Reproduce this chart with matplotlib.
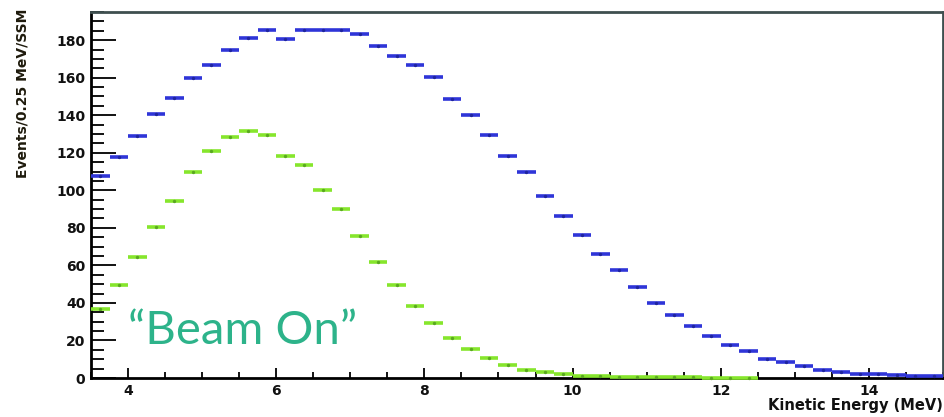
import numpy as np
import matplotlib
matplotlib.use('Agg')
import matplotlib.pyplot as plt
from matplotlib.ticker import MultipleLocator

# 0.25 MeV bins starting at 3.5 MeV
bin_width = 0.25
e_start = 3.5

# total spectrum (blue)
blue_counts = [107.6, 117.8, 128.9, 140.4, 149.4, 160.0, 166.9, 174.9, 181.3, 185.6,
               180.5, 185.3, 185.3, 185.6, 183.3, 177.1, 171.3, 166.7, 160.3, 148.6,
               140.3, 129.4, 118.4, 109.9, 97.2, 86.3, 76.1, 66.0, 57.3, 48.5,
               39.8, 33.4, 27.5, 22.4, 17.6, 14.4, 10.1, 8.5, 6.6, 4.3,
               3.2, 2.3, 2.0, 1.6, 1.2, 0.8]

# beam on spectrum (green)
green_counts = [36.7, 49.5, 64.6, 80.2, 94.2, 109.9, 121.1, 128.2, 131.5, 129.7,
                118.2, 113.6, 100.3, 90.0, 75.8, 61.6, 49.5, 38.2, 29.5, 21.5,
                15.4, 10.6, 7.1, 4.3, 3.0, 2.1, 1.2, 0.8, 0.6, 0.5,
                0.4, 0.3, 0.3, 0.2, 0.2, 0.2]

x_ticks = [4, 6, 8, 10, 12, 14]
y_ticks = [0, 20, 40, 60, 80, 100, 120, 140, 160, 180]


def draw_hist(ax, counts, color, dot_color):
    lo = e_start + bin_width * np.arange(len(counts))
    hi = lo + bin_width
    ax.hlines(counts, lo, hi, colors=color, linewidth=2.6, zorder=3, clip_on=False)
    ax.plot(lo + bin_width / 2, counts, 'o', ms=1.4, color=dot_color, zorder=4, clip_on=False)


fig = plt.figure(figsize=(9.44, 4.17), dpi=100)
ax = fig.add_axes([91 / 944, 39 / 417, 852 / 944, 366 / 417])

draw_hist(ax, blue_counts, '#2f35d8', '#1f259f')
draw_hist(ax, green_counts, '#86e62c', '#5aa820')

ax.set_xlim(3.5, 15.0)
ax.set_ylim(0, 195)
ax.set_xticks(x_ticks)
ax.set_yticks(y_ticks)
ax.xaxis.set_minor_locator(MultipleLocator(0.5))
ax.yaxis.set_minor_locator(MultipleLocator(5))

ax.tick_params(axis='both', which='both', direction='in', width=1.3, color='black')
ax.tick_params(axis='y', which='major', length=18, pad=4)
ax.tick_params(axis='y', which='minor', length=9)
ax.tick_params(axis='x', which='major', length=7, pad=4)
ax.tick_params(axis='x', which='minor', length=4)
ax.tick_params(top=False, right=False, which='both')

for lbl in ax.get_xticklabels() + ax.get_yticklabels():
    lbl.set_fontweight('bold')
    lbl.set_fontsize(10)
    lbl.set_color('#111111')

ax.spines['left'].set_linewidth(2.0)
ax.spines['bottom'].set_linewidth(2.0)
ax.spines['top'].set_linewidth(2.0)
ax.spines['top'].set_color('#3f4f4f')
ax.spines['right'].set_linewidth(2.0)
ax.spines['right'].set_color('#3f4f4f')

fig.text(23 / 944, 1 - 9 / 417, 'Events/0.25 MeV/SSM', rotation=90, ha='center', va='top',
         fontsize=10, fontweight='bold', color='#1e1a0c')
fig.text(943 / 944, 1 - 398 / 417, 'Kinetic Energy (MeV)', ha='right', va='top',
         fontsize=10.5, fontweight='bold', color='#111111')

ax.text(4.0, 18, '\u201cBeam On\u201d', fontsize=34, color='#2db38a',
        family=['Lato', 'DejaVu Sans'], ha='left', va='baseline')

fig.savefig('out.png', dpi=100)
